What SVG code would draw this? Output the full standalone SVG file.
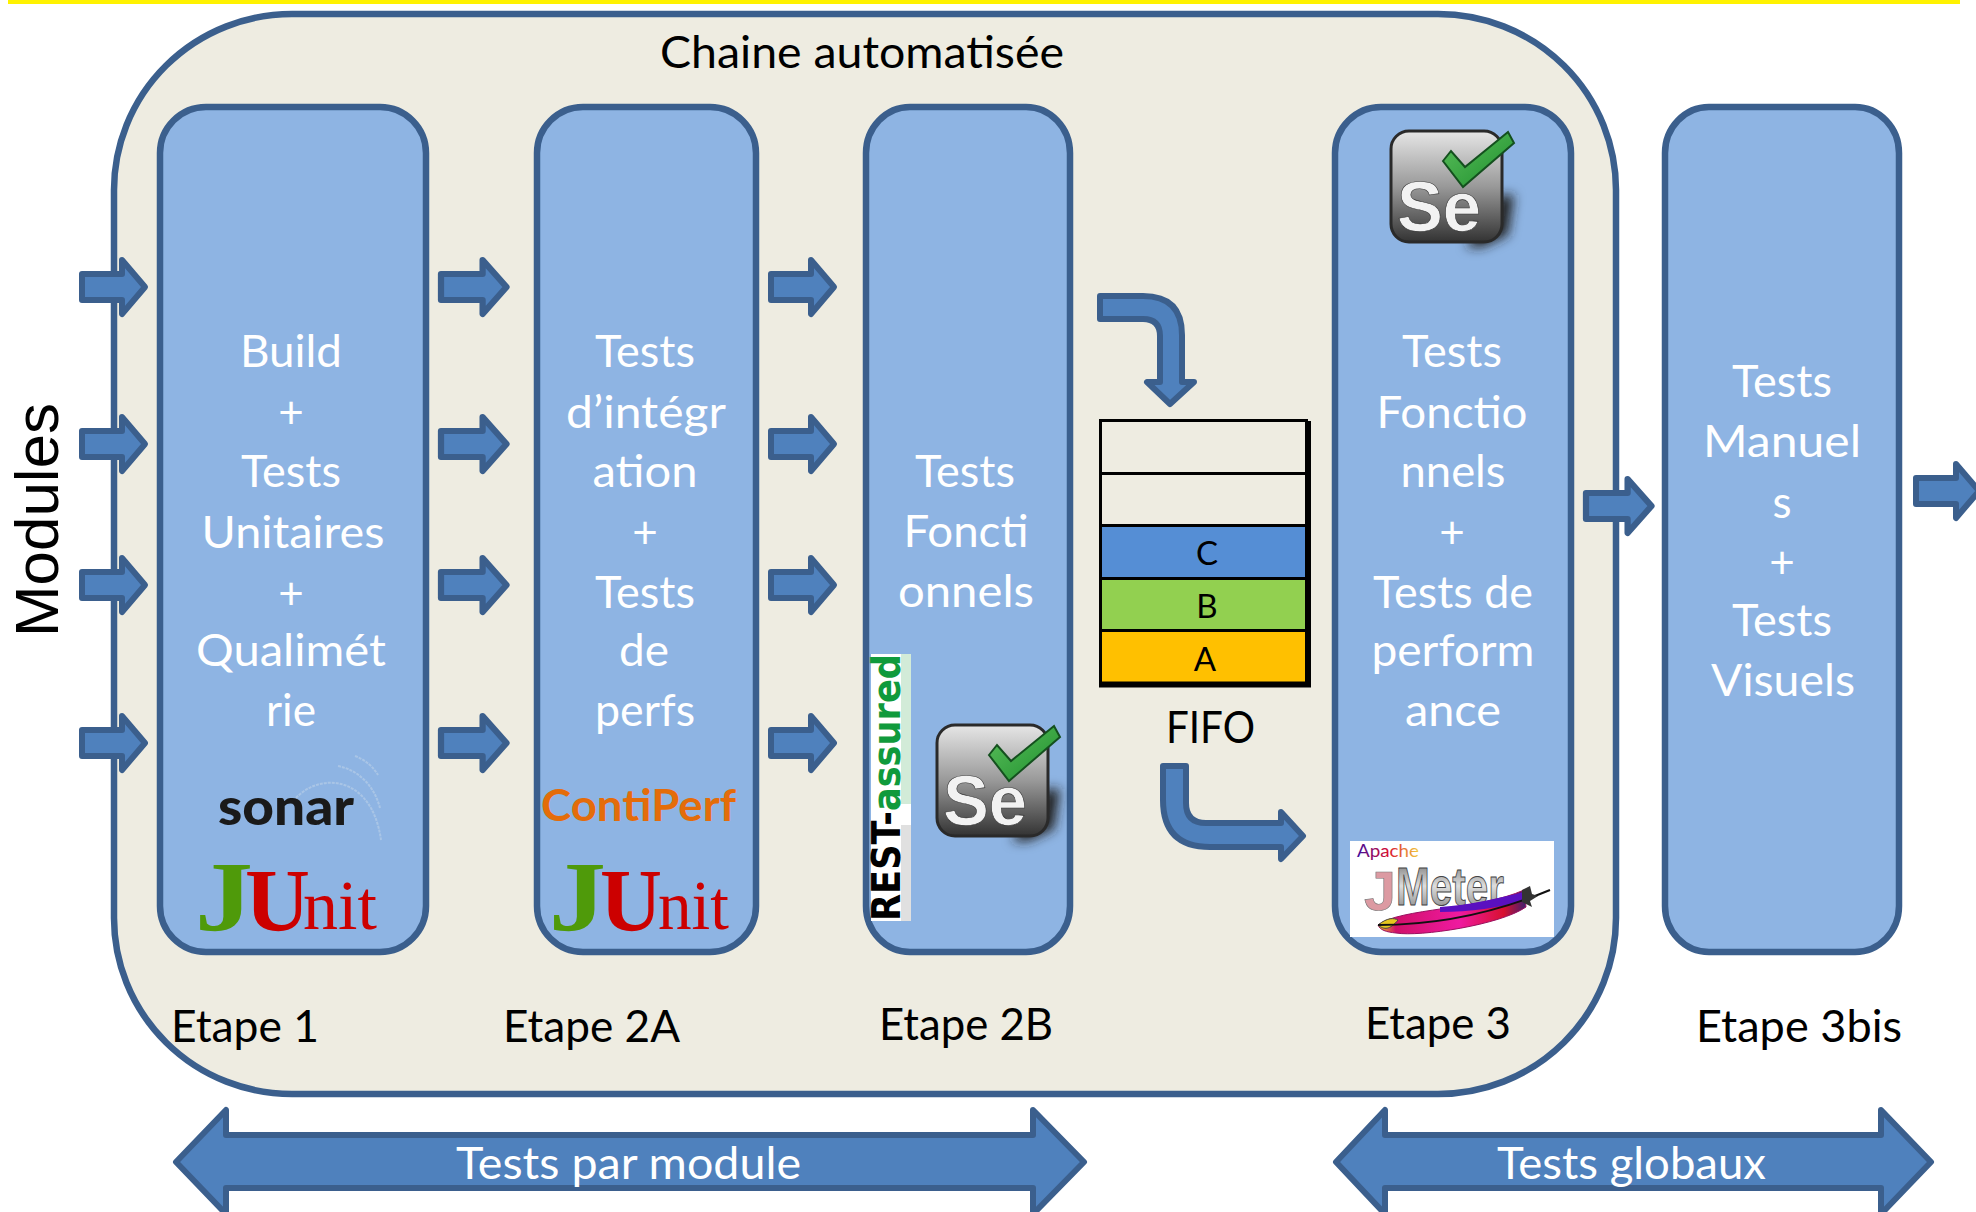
<svg xmlns="http://www.w3.org/2000/svg" width="1976" height="1212" viewBox="0 0 1976 1212">
<style>
text{font-family:Lato,"Liberation Sans",sans-serif}
.s{fill:#8EB4E3;stroke:#3B5F8D;stroke-width:6.5}
.a{fill:#4F81BD;stroke:#3B5F8D;stroke-width:6;stroke-linejoin:round}
.w{fill:#fff;font-size:44px;text-anchor:middle}
.k{fill:#000;font-size:44px}
.l{fill:#000;font-size:33px;text-anchor:middle}
.j{font-family:"Liberation Serif",serif;font-weight:bold}
.n{font-family:"Liberation Serif",serif}
.se{font-family:"Liberation Sans",sans-serif;font-weight:bold;font-size:70px;fill:#f2f2f2;stroke:#333;stroke-width:.6}
.f{stroke:#000;fill:none}
.m{font-family:"Liberation Sans",sans-serif}
.r{font-family:"DejaVu Sans",sans-serif;font-weight:bold}
</style>
<defs>
<linearGradient id="g1" x1="0" y1="0" x2="0" y2="1"><stop offset="0" stop-color="#e6e6e6"/><stop offset=".5" stop-color="#999"/><stop offset="1" stop-color="#333"/></linearGradient>
<linearGradient id="g2" x1="0" y1="0" x2="1" y2="1"><stop offset="0" stop-color="#5cbf5c"/><stop offset="1" stop-color="#1d8f2d"/></linearGradient>
<linearGradient id="g3" x1="0" y1="0" x2="1" y2="0"><stop offset="0" stop-color="#3a0d9c"/><stop offset=".5" stop-color="#d81030"/><stop offset="1" stop-color="#f2d040"/></linearGradient>
<linearGradient id="g4" x1="0" y1="0" x2="1" y2="0"><stop offset="0" stop-color="#f0c020"/><stop offset=".12" stop-color="#d0106a"/><stop offset=".55" stop-color="#ef1aa0"/><stop offset=".85" stop-color="#d81030"/><stop offset="1" stop-color="#402070"/></linearGradient>
<linearGradient id="g5" x1="0" y1="0" x2="0" y2="1"><stop offset="0" stop-color="#666"/><stop offset=".5" stop-color="#ddd"/><stop offset="1" stop-color="#777"/></linearGradient>
<filter id="b" x="-30%" y="-30%" width="160%" height="160%"><feGaussianBlur stdDeviation="6"/></filter>
<path id="ar" d="M0-13H40V-27L63 0 40 27V13H0Z"/>
</defs>
<rect id="top-bar" x="8" y="0" width="1952" height="4" fill="#FFF200"/>
<g id="chaine"><rect x="114" y="14" width="1502" height="1080" rx="178" ry="176" fill="#EEECE1" stroke="#3B5F8D" stroke-width="6.5"/>
<text class="k" x="660" y="68" textLength="404" lengthAdjust="spacingAndGlyphs">Chaine automatisée</text></g>

<g id="etape1"><rect class="s" x="160" y="107" width="266" height="845" rx="46" ry="46"/>
<text class="w" x="291" y="367" textLength="102" lengthAdjust="spacingAndGlyphs">Build</text><text class="w" x="291" y="428">+</text><text class="w" x="291" y="487" textLength="100" lengthAdjust="spacingAndGlyphs">Tests</text><text class="w" x="293" y="548" textLength="183" lengthAdjust="spacingAndGlyphs">Unitaires</text><text class="w" x="291" y="609">+</text><text class="w" x="291" y="666" textLength="190" lengthAdjust="spacingAndGlyphs">Qualimét</text><text class="w" x="291" y="726" textLength="50" lengthAdjust="spacingAndGlyphs">rie</text>
<g id="sonar"><text x="218" y="825" font-size="52" font-weight="900" fill="#1a1a1a" textLength="136" lengthAdjust="spacingAndGlyphs">sonar</text>
<path d="M296 798C320 772 372 775 381 840M338 766C358 770 374 785 380 808M355 756C366 760 374 768 378 775" fill="none" stroke="#a9c5e6" stroke-width="2" stroke-dasharray="3 1"/></g>
<g id="junit1"><text class="j" x="195" y="930" font-size="100" fill="#4F9A0A" textLength="58" lengthAdjust="spacingAndGlyphs">J</text><text class="j" x="245" y="930" font-size="88" fill="#CC0000" textLength="65" lengthAdjust="spacingAndGlyphs">U</text><text class="n" x="303" y="929" font-size="70" fill="#CC0000" textLength="74" lengthAdjust="spacingAndGlyphs">nit</text></g></g>

<g id="etape2a"><rect class="s" x="537" y="107" width="219" height="845" rx="46" ry="46"/>
<text class="w" x="645" y="367" textLength="100" lengthAdjust="spacingAndGlyphs">Tests</text><text class="w" x="646" y="428" textLength="160" lengthAdjust="spacingAndGlyphs">d’intégr</text><text class="w" x="645" y="487" textLength="105" lengthAdjust="spacingAndGlyphs">ation</text><text class="w" x="645" y="548">+</text><text class="w" x="645" y="608" textLength="100" lengthAdjust="spacingAndGlyphs">Tests</text><text class="w" x="644" y="666" textLength="50" lengthAdjust="spacingAndGlyphs">de</text><text class="w" x="645" y="726" textLength="100" lengthAdjust="spacingAndGlyphs">perfs</text>
<text x="541" y="821" font-size="43" font-weight="bold" fill="#E46C0A" textLength="195" lengthAdjust="spacingAndGlyphs">ContiPerf</text>
<g id="junit2"><text class="j" x="549" y="930" font-size="100" fill="#4F9A0A" textLength="57" lengthAdjust="spacingAndGlyphs">J</text><text class="j" x="600" y="930" font-size="88" fill="#CC0000" textLength="62" lengthAdjust="spacingAndGlyphs">U</text><text class="n" x="658" y="929" font-size="70" fill="#CC0000" textLength="71" lengthAdjust="spacingAndGlyphs">nit</text></g></g>

<g id="etape2b"><rect class="s" x="866" y="107" width="204" height="845" rx="44" ry="46"/>
<text class="w" x="965" y="487" textLength="100" lengthAdjust="spacingAndGlyphs">Tests</text><text class="w" x="966" y="547" textLength="125" lengthAdjust="spacingAndGlyphs">Foncti</text><text class="w" x="966" y="607" textLength="136" lengthAdjust="spacingAndGlyphs">onnels</text>
<g id="rest-assured"><rect x="871" y="654" width="40" height="267" fill="#fff"/><rect x="901" y="654" width="10" height="150" fill="#bfe3c8" opacity=".7"/><rect x="901" y="825" width="10" height="96" fill="#ccc" opacity=".6"/>
<text class="r" transform="translate(900 921) rotate(-90)" font-size="39" textLength="267" lengthAdjust="spacingAndGlyphs"><tspan fill="#000">REST-</tspan><tspan fill="#109a3c">assured</tspan></text></g>
<g id="selenium2b" transform="translate(-454 594)"><path d="M1500 195h14l-6 40-26 12h-16z" fill="#222" filter="url(#b)"/><rect x="1391" y="131" width="111" height="111" rx="18" fill="url(#g1)" stroke="#2a2a2a" stroke-width="3"/><text class="se" x="1397" y="231" textLength="84" lengthAdjust="spacingAndGlyphs">Se</text><path d="M1443 161l8-10 14 16 43-35 6 11-51 44z" fill="url(#g2)" stroke="#14501e" stroke-width="2"/></g></g>

<g id="fifo">
<rect x="1100.500" y="420" width="207" height="52" fill="#EEECE1"/><rect x="1102" y="525" width="203" height="53" fill="#558ED5"/><rect x="1102" y="578" width="203" height="52" fill="#92D050"/><rect x="1102" y="630" width="203" height="54" fill="#FFC000"/>
<path class="f" d="M1100.500 687V420.500H1308" stroke-width="3"/><path class="f" d="M1308 421V685" stroke-width="6"/><path class="f" d="M1099 684.500H1311" stroke-width="6"/>
<path class="f" stroke-width="3" d="M1102 473.500H1305M1102 525.500H1305M1102 578.500H1305M1102 630.500H1305"/>
<text class="l" x="1207" y="565">C</text><text class="l" x="1207" y="618">B</text><text class="l" x="1205" y="671">A</text>
<text x="1166" y="743" class="k" textLength="89" lengthAdjust="spacingAndGlyphs">FIFO</text></g>

<g id="etape3"><rect class="s" x="1335" y="107" width="236" height="845" rx="46" ry="46"/>
<text class="w" x="1452" y="367" textLength="100" lengthAdjust="spacingAndGlyphs">Tests</text><text class="w" x="1452" y="428" textLength="151" lengthAdjust="spacingAndGlyphs">Fonctio</text><text class="w" x="1453" y="487" textLength="105" lengthAdjust="spacingAndGlyphs">nnels</text><text class="w" x="1452" y="548">+</text><text class="w" x="1453" y="608" textLength="160" lengthAdjust="spacingAndGlyphs">Tests de</text><text class="w" x="1453" y="666" textLength="163" lengthAdjust="spacingAndGlyphs">perform</text><text class="w" x="1453" y="726" textLength="96" lengthAdjust="spacingAndGlyphs">ance</text>
<g id="selenium3"><path d="M1500 195h14l-6 40-26 12h-16z" fill="#222" filter="url(#b)"/><rect x="1391" y="131" width="111" height="111" rx="18" fill="url(#g1)" stroke="#2a2a2a" stroke-width="3"/><text class="se" x="1397" y="231" textLength="84" lengthAdjust="spacingAndGlyphs">Se</text><path d="M1443 161l8-10 14 16 43-35 6 11-51 44z" fill="url(#g2)" stroke="#14501e" stroke-width="2"/></g>
<g id="jmeter"><rect x="1350" y="841" width="204" height="96" fill="#fff"/>
<text x="1357" y="857" font-size="18" fill="url(#g3)" textLength="62" lengthAdjust="spacingAndGlyphs">Apache</text>
<text class="m" x="1364" y="910" font-size="56" font-weight="bold" fill="#dc9aa2" stroke="#777" stroke-width=".6" textLength="32" lengthAdjust="spacingAndGlyphs">J</text>
<text class="m" x="1396" y="905" font-size="54" font-weight="bold" fill="url(#g5)" stroke="#444" stroke-width="1" textLength="108" lengthAdjust="spacingAndGlyphs">Meter</text>
<path d="M1378 925C1400 908 1480 910 1524 890L1526 907C1500 925 1420 937 1396 933 1386 932 1380 930 1378 925Z" fill="url(#g4)" stroke="#9a1060" stroke-width="1"/>
<path d="M1378 925C1388 917 1394 918 1398 920 1390 930 1384 930 1378 925Z" fill="#e6c61e" stroke="#444" stroke-width="1"/>
<path d="M1440 907C1470 905 1500 898 1524 892L1525 900C1500 908 1470 912 1440 912Z" fill="#5a10c0"/>
<path d="M1378 925C1430 925 1490 915 1550 890" fill="none" stroke="#111" stroke-width="2"/><path d="M1522 890l8-4 2 8 6 2-8 5 2 6-10-5z" fill="#333"/></g></g>

<g id="etape3bis"><rect class="s" x="1665" y="107" width="234" height="845" rx="44" ry="46"/>
<text class="w" x="1782" y="397" textLength="100" lengthAdjust="spacingAndGlyphs">Tests</text><text class="w" x="1782" y="457" textLength="158" lengthAdjust="spacingAndGlyphs">Manuel</text><text class="w" x="1782" y="518">s</text><text class="w" x="1782" y="578">+</text><text class="w" x="1782" y="636" textLength="100" lengthAdjust="spacingAndGlyphs">Tests</text><text class="w" x="1783" y="696" textLength="144" lengthAdjust="spacingAndGlyphs">Visuels</text></g>

<g id="labels">
<text class="k" x="171" y="1042" textLength="148" lengthAdjust="spacingAndGlyphs">Etape 1</text>
<text class="k" x="503" y="1042" textLength="177" lengthAdjust="spacingAndGlyphs">Etape 2A</text>
<text class="k" x="879" y="1040" textLength="174" lengthAdjust="spacingAndGlyphs">Etape 2B</text>
<text class="k" x="1365" y="1039" textLength="146" lengthAdjust="spacingAndGlyphs">Etape 3</text>
<text class="k" x="1696" y="1042" textLength="206" lengthAdjust="spacingAndGlyphs">Etape 3bis</text>
<text class="m" transform="translate(58 637) rotate(-90)" font-size="62" fill="#000" textLength="234" lengthAdjust="spacingAndGlyphs">Modules</text></g>

<g id="connectors">
<use href="#ar" class="a" transform="translate(82 287)"/><use href="#ar" class="a" transform="translate(82 444)"/><use href="#ar" class="a" transform="translate(82 585)"/><use href="#ar" class="a" transform="translate(82 743)"/>
<use href="#ar" class="a" transform="translate(441 287) scale(1.04 1)"/><use href="#ar" class="a" transform="translate(441 444) scale(1.04 1)"/><use href="#ar" class="a" transform="translate(441 585) scale(1.04 1)"/><use href="#ar" class="a" transform="translate(441 743) scale(1.04 1)"/>
<use href="#ar" class="a" transform="translate(771 287)"/><use href="#ar" class="a" transform="translate(771 444)"/><use href="#ar" class="a" transform="translate(771 585)"/><use href="#ar" class="a" transform="translate(771 743)"/>
<use href="#ar" class="a" transform="translate(1586 506) scale(1.04 1)"/><use href="#ar" class="a" transform="translate(1916 491)"/>
<path class="a" d="M1100 296H1143Q1182 296 1182 335V382H1194L1170 404 1147 382H1160V336Q1160 319 1143 319H1100Z"/>
<path class="a" d="M1163 766H1186V803Q1186 823 1206 823H1281V812L1303 836 1281 859V847H1210Q1163 847 1163 800Z"/>
<path class="a" d="M176 1162L226 1110V1135H1033V1110L1084 1162 1033 1214V1188H226V1214Z"/>
<path class="a" d="M1336 1162L1385 1110V1135H1881V1110L1931 1162 1881 1214V1188H1385V1214Z"/>
</g>
<text x="456" y="1179" class="w" style="text-anchor:start" textLength="345" lengthAdjust="spacingAndGlyphs">Tests par module</text>
<text x="1497" y="1179" class="w" style="text-anchor:start" textLength="269" lengthAdjust="spacingAndGlyphs">Tests globaux</text>
</svg>
